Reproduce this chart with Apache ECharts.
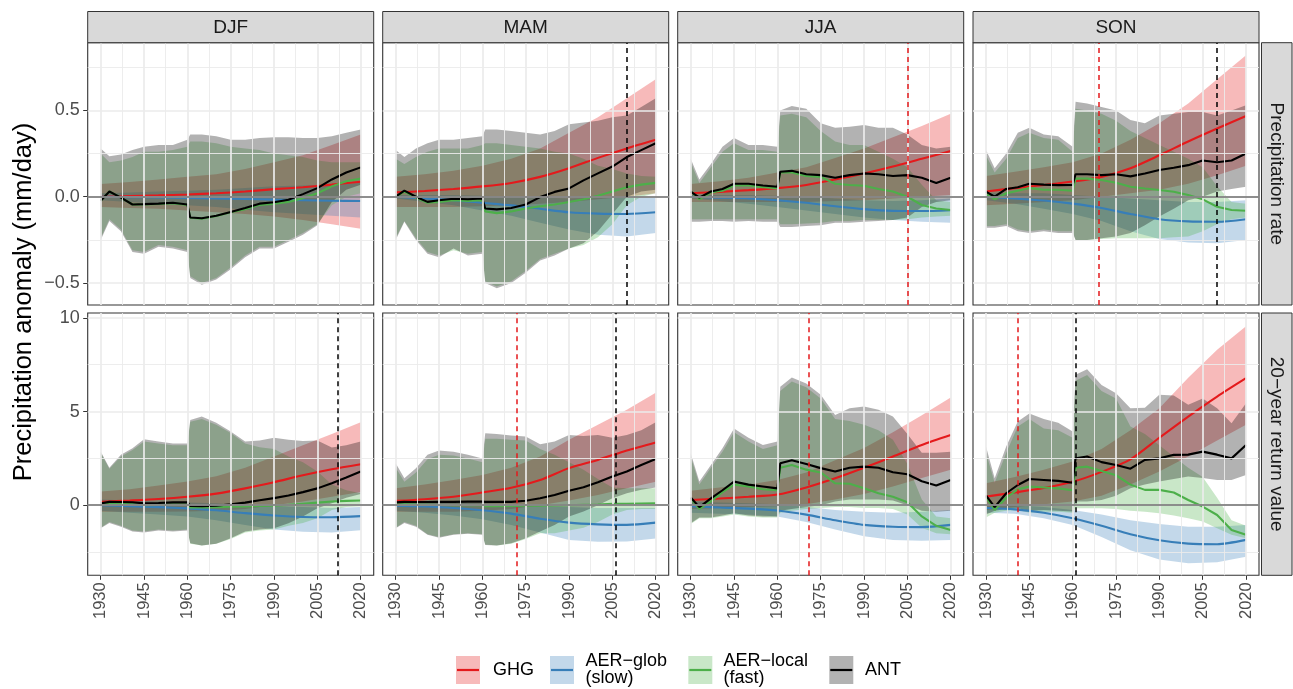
<!DOCTYPE html>
<html><head><meta charset="utf-8">
<script src="https://cdn.jsdelivr.net/npm/echarts@6/dist/echarts.min.js"></script>
<style>html,body{margin:0;padding:0;background:#fff}#c{width:1293px;height:689px}</style>
</head><body><div id="c"></div>
<script>
// ---------------- DATA ----------------
const yearsC = [1930,1940,1950,1960,1970,1980,1990,2000,2010,2020];
const yearsF = [1930,1933,1937,1941,1945,1950,1955,1960,1961,1965,1970,1975,1980,1985,1990,1995,2000,2005,2010,2015,2020];
const seasons = ['DJF','MAM','JJA','SON'];
const rowLabels = ['Precipitation rate','20\u2212year return value'];
const xMajor = [1930,1945,1960,1975,1990,2005,2020];
const xMinor = [1937.5,1952.5,1967.5,1982.5,1997.5,2012.5];
const yMajorRate = [-0.5,0,0.5];
const yMinorRate = [-0.25,0.25,0.75];
const yMajorRV = [0,5,10];
const yMinorRV = [-2.5,2.5,7.5];
const legendNames = ['GHG','AER\u2212glob\n(slow)','AER\u2212local\n(fast)','ANT'];
// dashed vertical markers (year) per panel: DJF,MAM,JJA,SON rate; then return value
const vRed   = [null, null, 2005, 1969, null, 1972, 1971, 1941];
const vBlack = [null, 2010, null, 2010, 2012, 2006, null, 1961];

// DJF, precipitation rate
const djf_rate_ghg    = [0,0.004,0.008,0.013,0.02,0.03,0.044,0.055,0.07,0.087];
const djf_rate_ghg_lo = [-0.06,-0.065,-0.07,-0.08,-0.09,-0.1,-0.115,-0.135,-0.16,-0.185];
const djf_rate_ghg_hi = [0.073,0.085,0.1,0.115,0.13,0.16,0.2,0.24,0.3,0.36];
const djf_rate_glob    = [0,-0.002,-0.004,-0.007,-0.01,-0.013,-0.017,-0.02,-0.023,-0.025];
const djf_rate_glob_lo = [-0.02,-0.03,-0.04,-0.05,-0.06,-0.075,-0.09,-0.1,-0.11,-0.12];
const djf_rate_glob_hi = [0.02,0.025,0.03,0.035,0.04,0.05,0.06,0.065,0.07,0.08];
const djf_rate_loc    = [-0.023,0.03,-0.005,-0.045,-0.045,-0.042,-0.037,-0.047,-0.122,-0.127,-0.112,-0.09,-0.072,-0.047,-0.04,-0.03,-0.008,0.02,0.06,0.09,0.105];
const djf_rate_loc_lo = [-0.24,-0.13,-0.19,-0.31,-0.32,-0.28,-0.29,-0.31,-0.46,-0.5,-0.47,-0.41,-0.34,-0.29,-0.29,-0.25,-0.21,-0.16,-0.05,0.0,0.02];
const djf_rate_loc_hi = [0.25,0.2,0.21,0.23,0.26,0.26,0.27,0.29,0.32,0.32,0.31,0.29,0.28,0.27,0.25,0.24,0.23,0.21,0.2,0.2,0.2];
const djf_rate_ant    = [-0.023,0.03,-0.005,-0.045,-0.043,-0.04,-0.035,-0.045,-0.12,-0.125,-0.11,-0.088,-0.065,-0.04,-0.032,-0.018,0.015,0.05,0.1,0.14,0.17];
const djf_rate_ant_lo = [-0.25,-0.14,-0.2,-0.32,-0.33,-0.29,-0.3,-0.32,-0.47,-0.51,-0.48,-0.42,-0.35,-0.3,-0.3,-0.26,-0.22,-0.165,-0.03,0.04,0.07];
const djf_rate_ant_hi = [0.28,0.235,0.245,0.27,0.29,0.3,0.3,0.33,0.36,0.36,0.35,0.33,0.33,0.34,0.345,0.345,0.34,0.34,0.35,0.37,0.39];

// MAM, precipitation rate
const mam_rate_ghg    = [0.025,0.033,0.045,0.06,0.08,0.115,0.165,0.225,0.28,0.33];
const mam_rate_ghg_lo = [-0.06,-0.06,-0.06,-0.055,-0.05,-0.04,-0.03,-0.015,0.0,0.02];
const mam_rate_ghg_hi = [0.115,0.13,0.15,0.18,0.22,0.28,0.37,0.46,0.57,0.68];
const mam_rate_glob    = [0,-0.01,-0.02,-0.035,-0.05,-0.07,-0.09,-0.098,-0.1,-0.09];
const mam_rate_glob_lo = [-0.01,-0.03,-0.05,-0.08,-0.11,-0.15,-0.19,-0.22,-0.23,-0.21];
const mam_rate_glob_hi = [0.01,0.01,0.01,0.005,0,-0.005,-0.01,-0.005,0,0];
const mam_rate_loc    = [0.0,0.03,-0.005,-0.035,-0.03,-0.02,-0.025,-0.02,-0.085,-0.095,-0.085,-0.068,-0.055,-0.045,-0.03,-0.015,0.005,0.03,0.055,0.07,0.08];
const mam_rate_loc_lo = [-0.24,-0.14,-0.24,-0.32,-0.34,-0.31,-0.33,-0.32,-0.49,-0.52,-0.49,-0.43,-0.36,-0.33,-0.3,-0.28,-0.235,-0.16,-0.05,0.0,0.02];
const mam_rate_loc_hi = [0.22,0.19,0.23,0.26,0.28,0.28,0.28,0.3,0.31,0.31,0.3,0.29,0.28,0.26,0.25,0.22,0.18,0.16,0.135,0.12,0.115];
const mam_rate_ant    = [0.0,0.035,0.0,-0.03,-0.02,-0.012,-0.015,-0.01,-0.068,-0.073,-0.065,-0.045,-0.002,0.028,0.048,0.095,0.135,0.175,0.23,0.27,0.31];
const mam_rate_ant_lo = [-0.25,-0.145,-0.25,-0.33,-0.35,-0.3,-0.34,-0.33,-0.5,-0.53,-0.5,-0.44,-0.37,-0.34,-0.3,-0.27,-0.2,-0.1,0.0,0.03,0.04];
const mam_rate_ant_hi = [0.27,0.23,0.28,0.31,0.33,0.33,0.34,0.35,0.39,0.39,0.38,0.37,0.36,0.38,0.42,0.43,0.44,0.46,0.47,0.52,0.57];

// JJA, precipitation rate
const jja_rate_ghg    = [0.02,0.028,0.038,0.05,0.068,0.1,0.135,0.175,0.22,0.265];
const jja_rate_ghg_lo = [-0.03,-0.03,-0.03,-0.03,-0.03,-0.025,-0.02,-0.01,0.0,0.01];
const jja_rate_ghg_hi = [0.073,0.09,0.11,0.14,0.17,0.225,0.28,0.345,0.41,0.48];
const jja_rate_glob    = [0,-0.005,-0.01,-0.02,-0.035,-0.055,-0.072,-0.082,-0.083,-0.078];
const jja_rate_glob_lo = [-0.01,-0.025,-0.04,-0.06,-0.08,-0.1,-0.12,-0.135,-0.145,-0.15];
const jja_rate_glob_hi = [0.01,0.01,0.01,0.005,0,-0.01,-0.02,-0.025,-0.02,-0.01];
const jja_rate_loc    = [0.03,-0.015,0.025,0.035,0.065,0.065,0.055,0.05,0.14,0.14,0.12,0.115,0.075,0.068,0.064,0.045,0.03,0.0,-0.048,-0.068,-0.077];
const jja_rate_loc_lo = [-0.13,-0.13,-0.13,-0.13,-0.13,-0.13,-0.13,-0.13,-0.16,-0.16,-0.155,-0.15,-0.14,-0.14,-0.135,-0.135,-0.135,-0.13,-0.12,-0.115,-0.11];
const jja_rate_loc_hi = [0.2,0.08,0.17,0.26,0.31,0.27,0.27,0.26,0.47,0.48,0.46,0.38,0.32,0.3,0.3,0.26,0.22,0.17,0.07,-0.02,-0.03];
const jja_rate_ant    = [0.03,-0.005,0.03,0.045,0.075,0.075,0.065,0.058,0.145,0.15,0.13,0.125,0.11,0.125,0.135,0.13,0.12,0.125,0.11,0.08,0.11];
const jja_rate_ant_lo = [-0.145,-0.145,-0.14,-0.14,-0.145,-0.14,-0.145,-0.145,-0.175,-0.175,-0.17,-0.165,-0.15,-0.15,-0.145,-0.14,-0.135,-0.12,-0.06,-0.03,-0.02];
const jja_rate_ant_hi = [0.22,0.1,0.19,0.29,0.34,0.3,0.3,0.29,0.5,0.525,0.51,0.425,0.4,0.405,0.415,0.4,0.4,0.36,0.3,0.28,0.29];

// SON, precipitation rate
const son_rate_ghg    = [0.03,0.05,0.068,0.088,0.115,0.165,0.24,0.32,0.395,0.467];
const son_rate_ghg_lo = [-0.05,-0.04,-0.03,-0.02,0.0,0.02,0.04,0.075,0.125,0.18];
const son_rate_ghg_hi = [0.12,0.145,0.17,0.2,0.25,0.33,0.425,0.54,0.68,0.82];
const son_rate_glob    = [0,-0.01,-0.022,-0.04,-0.065,-0.1,-0.13,-0.143,-0.145,-0.13];
const son_rate_glob_lo = [-0.02,-0.04,-0.07,-0.1,-0.14,-0.2,-0.245,-0.265,-0.27,-0.25];
const son_rate_glob_hi = [0.02,0.02,0.02,0.01,0,-0.01,-0.02,-0.03,-0.03,-0.02];
const son_rate_loc    = [0.02,-0.015,0.02,0.035,0.05,0.04,0.04,0.035,0.105,0.105,0.097,0.081,0.058,0.048,0.039,0.029,0.01,-0.015,-0.058,-0.077,-0.081];
const son_rate_loc_lo = [-0.17,-0.17,-0.16,-0.19,-0.2,-0.19,-0.2,-0.2,-0.25,-0.25,-0.245,-0.24,-0.24,-0.24,-0.24,-0.235,-0.23,-0.2,-0.16,-0.13,-0.12];
const son_rate_loc_hi = [0.24,0.14,0.22,0.34,0.37,0.34,0.33,0.26,0.51,0.5,0.48,0.44,0.38,0.34,0.3,0.26,0.22,0.17,0.06,-0.03,-0.04];
const son_rate_ant    = [0.03,0.0,0.045,0.055,0.075,0.07,0.067,0.068,0.13,0.13,0.125,0.13,0.118,0.135,0.155,0.168,0.183,0.21,0.2,0.21,0.25];
const son_rate_ant_lo = [-0.18,-0.18,-0.17,-0.2,-0.21,-0.2,-0.21,-0.21,-0.25,-0.25,-0.24,-0.23,-0.21,-0.165,-0.115,-0.07,-0.02,0.0,0.03,0.045,0.058];
const son_rate_ant_hi = [0.27,0.165,0.25,0.37,0.4,0.36,0.35,0.29,0.55,0.54,0.52,0.5,0.445,0.425,0.47,0.48,0.49,0.49,0.47,0.5,0.53];

// DJF, 20-year return value
const djf_rv_ghg    = [0.18,0.25,0.33,0.45,0.62,0.9,1.23,1.6,1.92,2.19];
const djf_rv_ghg_lo = [-0.35,-0.35,-0.35,-0.33,-0.3,-0.2,0.0,0.2,0.45,0.7];
const djf_rv_ghg_hi = [0.73,0.85,1.05,1.27,1.55,2.0,2.6,3.2,3.8,4.43];
const djf_rv_glob    = [0,-0.05,-0.1,-0.17,-0.27,-0.42,-0.55,-0.63,-0.64,-0.58];
const djf_rv_glob_lo = [-0.3,-0.4,-0.5,-0.6,-0.8,-1.05,-1.3,-1.42,-1.45,-1.33];
const djf_rv_glob_hi = [0.3,0.25,0.2,0.15,0.1,0.0,-0.05,-0.1,-0.15,-0.1];
const djf_rv_loc    = [0.05,0.1,0.08,0.05,0.0,0.02,0.03,0.03,-0.12,-0.12,-0.1,-0.08,-0.06,-0.04,-0.02,0.02,0.08,0.14,0.2,0.23,0.25];
const djf_rv_loc_lo = [-1.2,-0.9,-1.1,-1.35,-1.4,-1.3,-1.35,-1.3,-2.05,-2.15,-2.05,-1.8,-1.45,-1.35,-1.3,-1.1,-0.95,-0.7,-0.25,-0.1,-0.05];
const djf_rv_loc_hi = [2.8,1.95,2.6,2.95,3.4,3.3,3.2,3.2,4.45,4.6,4.3,3.85,3.3,3.1,3.0,2.6,2.3,1.8,1.1,0.8,0.64];
const djf_rv_ant    = [0.1,0.18,0.17,0.16,0.1,0.12,0.15,0.16,-0.04,-0.05,-0.03,0.05,0.14,0.27,0.38,0.52,0.7,0.9,1.17,1.48,1.8];
const djf_rv_ant_lo = [-1.23,-0.95,-1.15,-1.4,-1.45,-1.35,-1.4,-1.35,-2.03,-2.15,-2.05,-1.76,-1.4,-1.3,-1.23,-0.96,-0.6,-0.16,0.1,0.4,0.6];
const djf_rv_ant_hi = [2.87,2.0,2.7,3.04,3.52,3.4,3.3,3.3,4.55,4.73,4.4,3.93,3.4,3.45,3.6,3.5,3.43,3.45,3.08,3.2,3.4];

// MAM, 20-year return value
const mam_rv_ghg    = [0.23,0.32,0.45,0.68,0.93,1.35,1.98,2.42,2.92,3.35];
const mam_rv_ghg_lo = [-0.35,-0.35,-0.35,-0.3,-0.2,0.0,0.25,0.55,0.9,1.25];
const mam_rv_ghg_hi = [0.9,1.1,1.35,1.62,2.0,2.6,3.5,4.3,5.1,6.0];
const mam_rv_glob    = [-0.02,-0.07,-0.15,-0.27,-0.45,-0.72,-0.93,-1.02,-1.05,-0.93];
const mam_rv_glob_lo = [-0.3,-0.4,-0.55,-0.75,-1.05,-1.45,-1.85,-1.95,-1.93,-1.78];
const mam_rv_glob_hi = [0.2,0.2,0.15,0.1,0.05,-0.05,-0.1,-0.15,-0.15,-0.15];
const mam_rv_loc    = [0.05,0.05,0.03,0.02,0.01,0.0,0.0,0.0,-0.05,-0.05,-0.04,-0.03,-0.02,-0.01,0.0,0.02,0.04,0.07,0.08,0.09,0.1];
const mam_rv_loc_lo = [-1.2,-0.9,-1.1,-1.55,-1.7,-1.55,-1.5,-1.55,-2.1,-2.15,-2.05,-1.8,-1.5,-1.5,-1.35,-1.2,-0.9,-0.5,-0.25,-0.2,-0.2];
const mam_rv_loc_hi = [2.0,1.25,1.75,2.45,2.7,2.65,2.5,2.3,3.55,3.55,3.5,3.45,3.0,2.7,2.3,1.9,1.4,0.95,0.9,0.9,0.9];
const mam_rv_ant    = [0.15,0.18,0.17,0.17,0.18,0.18,0.19,0.2,0.18,0.18,0.18,0.24,0.37,0.55,0.77,0.96,1.23,1.53,1.8,2.15,2.47];
const mam_rv_ant_lo = [-1.23,-0.95,-1.15,-1.58,-1.73,-1.58,-1.52,-1.58,-2.12,-2.15,-2.03,-1.76,-1.4,-1.05,-0.6,-0.34,0.0,0.37,0.64,0.82,0.94];
const mam_rv_ant_hi = [2.24,1.44,1.97,2.69,2.92,2.86,2.7,2.5,3.84,3.8,3.72,3.67,3.25,3.4,3.75,3.7,3.75,3.6,3.75,4.0,4.43];

// JJA, 20-year return value
const jja_rv_ghg    = [0.28,0.36,0.45,0.57,0.95,1.44,2.0,2.6,3.22,3.75];
const jja_rv_ghg_lo = [-0.2,-0.15,-0.1,-0.05,0.05,0.3,0.6,1.0,1.45,1.9];
const jja_rv_ghg_hi = [0.77,0.95,1.1,1.35,1.75,2.4,3.05,3.9,4.8,5.75];
const jja_rv_glob    = [-0.05,-0.12,-0.18,-0.28,-0.5,-0.8,-1.05,-1.15,-1.17,-1.05];
const jja_rv_glob_lo = [-0.4,-0.45,-0.5,-0.6,-0.9,-1.3,-1.65,-1.85,-1.9,-1.85];
const jja_rv_glob_hi = [0.2,0.15,0.1,0.05,-0.1,-0.25,-0.35,-0.4,-0.35,-0.25];
const jja_rv_loc    = [0.35,-0.2,0.2,0.7,1.1,1.0,0.85,0.8,2.0,2.15,1.9,1.75,1.17,1.15,0.9,0.64,0.45,0.16,-0.6,-1.1,-1.32];
const jja_rv_loc_lo = [-1.0,-0.7,-0.7,-0.6,-0.5,-0.6,-0.65,-0.65,-0.4,-0.3,-0.2,-0.15,-0.1,-0.1,-0.15,-0.15,-0.2,-0.5,-1.2,-1.5,-1.55];
const jja_rv_loc_hi = [2.6,1.1,2.0,2.85,3.9,3.4,3.0,3.2,6.1,6.6,6.3,5.7,4.6,4.5,4.3,4.0,3.5,2.2,0.3,-0.6,-0.7];
const jja_rv_ant    = [0.41,-0.1,0.37,0.8,1.26,1.1,1.0,0.9,2.24,2.4,2.2,1.98,1.8,2.0,2.06,2.0,1.76,1.65,1.28,1.05,1.35];
const jja_rv_ant_lo = [-0.96,-0.65,-0.65,-0.55,-0.43,-0.55,-0.6,-0.6,-0.3,-0.2,-0.1,0.0,0.2,0.3,0.3,0.3,0.25,0.0,-0.3,-0.35,-0.3];
const jja_rv_ant_hi = [2.78,1.26,2.15,3.04,4.1,3.6,3.22,3.4,6.33,6.82,6.5,5.9,4.82,5.18,5.27,5.1,4.73,3.8,2.8,2.8,2.85];

// SON, 20-year return value
const son_rv_ghg    = [0.46,0.68,0.92,1.25,1.78,2.45,3.6,4.73,5.8,6.78];
const son_rv_ghg_lo = [-0.25,-0.1,0.05,0.2,0.5,1.1,1.8,2.6,3.45,4.3];
const son_rv_ghg_hi = [1.17,1.5,1.9,2.33,3.0,4.0,5.18,6.8,8.3,9.55];
const son_rv_glob    = [-0.15,-0.22,-0.4,-0.7,-1.1,-1.55,-1.87,-2.05,-2.08,-1.85];
const son_rv_glob_lo = [-0.4,-0.45,-0.7,-1.05,-1.7,-2.4,-2.9,-3.1,-3.05,-2.75];
const son_rv_glob_hi = [0.05,0.0,-0.1,-0.25,-0.5,-0.8,-1.0,-1.15,-1.15,-1.05];
const son_rv_loc    = [0.45,-0.25,0.4,0.85,1.0,0.95,0.9,0.8,2.0,2.06,1.83,1.6,1.1,0.82,0.82,0.68,0.28,-0.07,-0.52,-1.32,-1.58];
const son_rv_loc_lo = [-0.65,-0.4,-0.3,-0.25,-0.4,-0.35,-0.35,-0.4,-0.16,-0.16,-0.16,-0.2,-0.3,-0.35,-0.43,-0.55,-0.7,-0.87,-1.23,-1.58,-1.76];
const son_rv_loc_hi = [2.8,1.2,2.8,4.2,4.6,4.1,4.0,3.6,6.65,6.95,6.1,5.7,4.2,3.8,3.2,2.6,2.0,1.5,0.4,-0.8,-1.1];
const son_rv_ant    = [0.52,-0.1,0.64,1.08,1.4,1.35,1.3,1.2,2.5,2.6,2.3,2.15,1.95,2.42,2.5,2.69,2.7,2.86,2.7,2.5,3.22];
const son_rv_ant_lo = [-0.5,-0.3,-0.2,-0.16,-0.3,-0.25,-0.3,-0.34,0.2,0.2,0.28,0.5,0.9,1.1,1.26,1.4,1.53,1.45,1.35,1.35,1.62];
const son_rv_ant_hi = [3.13,1.44,3.13,4.47,4.9,4.6,4.4,3.93,6.96,7.26,6.42,5.98,5.18,5.2,5.9,5.85,5.36,5.7,5.18,4.38,5.44];

// ---------------- BUILD ----------------
const panels = [
  {ghg:[djf_rate_ghg,djf_rate_ghg_lo,djf_rate_ghg_hi], glob:[djf_rate_glob,djf_rate_glob_lo,djf_rate_glob_hi], loc:[djf_rate_loc,djf_rate_loc_lo,djf_rate_loc_hi], ant:[djf_rate_ant,djf_rate_ant_lo,djf_rate_ant_hi]},
  {ghg:[mam_rate_ghg,mam_rate_ghg_lo,mam_rate_ghg_hi], glob:[mam_rate_glob,mam_rate_glob_lo,mam_rate_glob_hi], loc:[mam_rate_loc,mam_rate_loc_lo,mam_rate_loc_hi], ant:[mam_rate_ant,mam_rate_ant_lo,mam_rate_ant_hi]},
  {ghg:[jja_rate_ghg,jja_rate_ghg_lo,jja_rate_ghg_hi], glob:[jja_rate_glob,jja_rate_glob_lo,jja_rate_glob_hi], loc:[jja_rate_loc,jja_rate_loc_lo,jja_rate_loc_hi], ant:[jja_rate_ant,jja_rate_ant_lo,jja_rate_ant_hi]},
  {ghg:[son_rate_ghg,son_rate_ghg_lo,son_rate_ghg_hi], glob:[son_rate_glob,son_rate_glob_lo,son_rate_glob_hi], loc:[son_rate_loc,son_rate_loc_lo,son_rate_loc_hi], ant:[son_rate_ant,son_rate_ant_lo,son_rate_ant_hi]},
  {ghg:[djf_rv_ghg,djf_rv_ghg_lo,djf_rv_ghg_hi], glob:[djf_rv_glob,djf_rv_glob_lo,djf_rv_glob_hi], loc:[djf_rv_loc,djf_rv_loc_lo,djf_rv_loc_hi], ant:[djf_rv_ant,djf_rv_ant_lo,djf_rv_ant_hi]},
  {ghg:[mam_rv_ghg,mam_rv_ghg_lo,mam_rv_ghg_hi], glob:[mam_rv_glob,mam_rv_glob_lo,mam_rv_glob_hi], loc:[mam_rv_loc,mam_rv_loc_lo,mam_rv_loc_hi], ant:[mam_rv_ant,mam_rv_ant_lo,mam_rv_ant_hi]},
  {ghg:[jja_rv_ghg,jja_rv_ghg_lo,jja_rv_ghg_hi], glob:[jja_rv_glob,jja_rv_glob_lo,jja_rv_glob_hi], loc:[jja_rv_loc,jja_rv_loc_lo,jja_rv_loc_hi], ant:[jja_rv_ant,jja_rv_ant_lo,jja_rv_ant_hi]},
  {ghg:[son_rv_ghg,son_rv_ghg_lo,son_rv_ghg_hi], glob:[son_rv_glob,son_rv_glob_lo,son_rv_glob_hi], loc:[son_rv_loc,son_rv_loc_lo,son_rv_loc_hi], ant:[son_rv_ant,son_rv_ant_lo,son_rv_ant_hi]}
];

const FONT = '"Liberation Sans", Arial, Helvetica, sans-serif';
const COLORS = {ghg:'#e41a1c', glob:'#377eb8', loc:'#4daf4a', ant:'#000000'};
const FILLS = {ghg:'rgba(228,26,28,0.3)', glob:'rgba(55,126,184,0.3)', loc:'rgba(77,175,74,0.3)', ant:'rgba(0,0,0,0.3)'};
const colLeft = [87.7, 382.7, 677.7, 973.0];
const panelW = 286;
const rowTop = [42.7, 313];
const panelH = 262.3;
const xRange = [1925.5, 2024.5];
const yRanges = [[-0.627, 0.892], [-3.74, 10.26]];

const grids = [], xAxes = [], yAxes = [], series = [];
const pairs = (xs, ys) => xs.map((x, k) => [x, ys[k]]);
const fmtRate = v => v === 0 ? '0.0' : (v < 0 ? '\u2212' : '') + Math.abs(v).toFixed(1);
const fmtRV = v => (v < 0 ? '\u2212' : '') + Math.abs(v);

function bandRenderer(fill) {
  return function (params, api) {
    if (params.dataIndexInside !== 0) return null;
    const n = params.dataInsideLength;
    const top = [], bot = [];
    for (let j = 0; j < n; j++) {
      const x = api.value(0, j);
      top.push(api.coord([x, api.value(2, j)]));
      bot.push(api.coord([x, api.value(1, j)]));
    }
    return {type: 'polygon', shape: {points: top.concat(bot.reverse())}, style: {fill: fill}};
  };
}

panels.forEach((p, i) => {
  const row = Math.floor(i / 4), col = i % 4;
  grids.push({left: colLeft[col], top: rowTop[row], width: panelW, height: panelH,
    show: true, borderColor: '#333333', borderWidth: 1.1, backgroundColor: '#ffffff', containLabel: false});
  xAxes.push({type: 'value', gridIndex: i, min: xRange[0], max: xRange[1],
    splitLine: {show: false}, axisLine: {show: false, onZero: false},
    axisTick: {show: row === 1, customValues: xMajor, length: 4.5, lineStyle: {color: '#333333', width: 1}},
    axisLabel: {show: row === 1, customValues: xMajor, rotate: 90, margin: 7, fontSize: 16.5,
      color: '#4d4d4d', fontFamily: FONT, formatter: v => String(v)}});
  const yMaj = row === 0 ? yMajorRate : yMajorRV;
  const yMin = row === 0 ? yMinorRate : yMinorRV;
  yAxes.push({type: 'value', gridIndex: i, min: yRanges[row][0], max: yRanges[row][1],
    splitLine: {show: false}, axisLine: {show: false, onZero: false},
    axisTick: {show: col === 0, customValues: yMaj, length: 4.5, lineStyle: {color: '#333333', width: 1}},
    axisLabel: {show: col === 0, customValues: yMaj, margin: 8, fontSize: 18, color: '#4d4d4d',
      fontFamily: FONT, formatter: row === 0 ? fmtRate : fmtRV}});

  const base = {xAxisIndex: i, yAxisIndex: i, silent: true, animation: false};
  // grid lines
  const gl = [];
  xMinor.forEach(v => gl.push({xAxis: v, lineStyle: {color: '#ebebeb', width: 0.9, type: 'solid'}}));
  yMin.forEach(v => gl.push({yAxis: v, lineStyle: {color: '#ebebeb', width: 0.9, type: 'solid'}}));
  xMajor.forEach(v => gl.push({xAxis: v, lineStyle: {color: '#ebebeb', width: 1.7, type: 'solid'}}));
  yMaj.forEach(v => gl.push({yAxis: v, lineStyle: {color: '#ebebeb', width: 1.7, type: 'solid'}}));
  series.push(Object.assign({type: 'line', data: [], z: 1,
    markLine: {silent: true, symbol: ['none', 'none'], label: {show: false}, animation: false, data: gl}}, base));

  // ribbons (custom polygons through the axes' scales)
  [['ghg', yearsC], ['glob', yearsC], ['loc', yearsF], ['ant', yearsF]].forEach(([k, xs]) => {
    const lo = p[k][1], hi = p[k][2];
    series.push(Object.assign({type: 'custom', z: 2, clip: true,
      data: xs.map((x, m) => [x, lo[m], hi[m]]),
      encode: {x: 0, y: [1, 2]},
      renderItem: bandRenderer(FILLS[k])}, base));
  });

  // zero line
  series.push(Object.assign({type: 'line', data: [], z: 3,
    markLine: {silent: true, symbol: ['none', 'none'], label: {show: false}, animation: false,
      data: [{yAxis: 0, lineStyle: {color: '#6e6e6e', width: 1.6, type: 'solid'}}]}}, base));

  // central lines
  [['ghg', yearsC, 0.25], ['glob', yearsC, 0.25], ['loc', yearsF, false], ['ant', yearsF, false]].forEach(([k, xs, sm]) => {
    series.push(Object.assign({type: 'line', data: pairs(xs, p[k][0]), symbol: 'none', smooth: sm,
      lineStyle: {color: COLORS[k], width: 2.1}, z: 4}, base));
  });

  // dashed markers
  const vl = [];
  if (vRed[i] != null) vl.push({xAxis: vRed[i], lineStyle: {color: '#e41a1c', width: 1.5, type: [5, 4]}});
  if (vBlack[i] != null) vl.push({xAxis: vBlack[i], lineStyle: {color: '#000000', width: 1.5, type: [5, 4]}});
  if (vl.length) series.push(Object.assign({type: 'line', data: [], z: 5,
    markLine: {silent: true, symbol: ['none', 'none'], label: {show: false}, animation: false, data: vl}}, base));
});

// strips, titles, legend
const graphic = [];
seasons.forEach((s, c) => {
  graphic.push({type: 'rect', shape: {x: colLeft[c], y: 11.5, width: panelW, height: 31.2},
    style: {fill: '#d9d9d9', stroke: '#333333', lineWidth: 1}, z: 10});
  graphic.push({type: 'text', x: colLeft[c] + panelW / 2, y: 27.5, z: 11,
    style: {text: s, fontSize: 19, fontFamily: FONT, fill: '#1a1a1a', align: 'center', verticalAlign: 'middle'}});
});
rowLabels.forEach((t, r) => {
  graphic.push({type: 'rect', shape: {x: 1261.5, y: rowTop[r], width: 30.5, height: panelH},
    style: {fill: '#d9d9d9', stroke: '#333333', lineWidth: 1}, z: 10});
  graphic.push({type: 'text', x: 1276.5, y: rowTop[r] + panelH / 2, rotation: -Math.PI / 2, z: 11,
    style: {text: t, fontSize: 19, fontFamily: FONT, fill: '#1a1a1a', align: 'center', verticalAlign: 'middle'}});
});
graphic.push({type: 'text', x: 24, y: 302, rotation: Math.PI / 2, z: 11,
  style: {text: 'Precipitation anomaly (mm/day)', fontSize: 25.5, fontFamily: FONT, fill: '#000000', align: 'center', verticalAlign: 'middle'}});

const legendKeyX = [456, 550, 688.3, 829.3];
const legendTextX = [493, 585.5, 723.5, 865];
['ghg', 'glob', 'loc', 'ant'].forEach((k, j) => {
  graphic.push({type: 'rect', shape: {x: legendKeyX[j], y: 656, width: 24, height: 28},
    style: {fill: FILLS[k]}, z: 10});
  graphic.push({type: 'line', shape: {x1: legendKeyX[j] + 1, y1: 670, x2: legendKeyX[j] + 23, y2: 670},
    style: {stroke: COLORS[k], lineWidth: 2.2}, z: 11});
  graphic.push({type: 'text', x: legendTextX[j], y: 670, z: 11,
    style: {text: legendNames[j], fontSize: 18, lineHeight: 17, fontFamily: FONT, fill: '#000000', align: 'left', verticalAlign: 'middle'}});
});

const chart = echarts.init(document.getElementById('c'), null, {renderer: 'canvas'});
chart.setOption({
  animation: false,
  backgroundColor: '#ffffff',
  grid: grids, xAxis: xAxes, yAxis: yAxes, series, graphic,
  tooltip: {show: false}
});
</script>
</body></html>
